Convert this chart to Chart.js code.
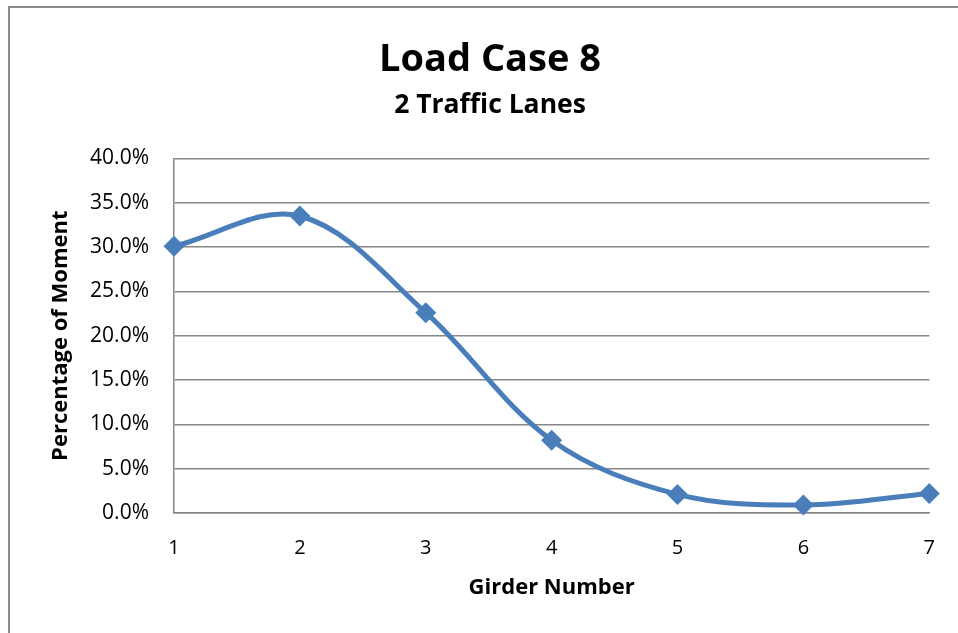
<!DOCTYPE html>
<html>
<head>
<meta charset="utf-8">
<script src="https://cdn.jsdelivr.net/npm/chart.js@4"></script>
<style>
  html, body { margin: 0; padding: 0; background: #fff; }
  #wrap { width: 958px; height: 633px; position: relative; }
</style>
</head>
<body>
<div id="wrap"><canvas id="loadCaseChart" width="958" height="633"></canvas></div>
<script>
// Girder numbers on the x axis
const girders = ['1', '2', '3', '4', '5', '6', '7'];
// Percentage of moment carried by each girder
const momentPct = [30.1, 33.5, 22.6, 8.2, 2.1, 0.9, 2.2];
// Y axis ticks (percent)
const yTicks = [0, 5, 10, 15, 20, 25, 30, 35, 40];

const blue = '#4A7EBB';
const gridGray = '#878787';
const fontFamily = '"Open Sans", "Liberation Sans", sans-serif';

// draws the chart's outer frame (only the top and left edges are visible)
const framePlugin = {
  id: 'frame',
  beforeDraw(chart) {
    const c = chart.ctx;
    c.save();
    c.fillStyle = '#fff';
    c.fillRect(0, 0, chart.width, chart.height);
    c.strokeStyle = '#8c8c8c';
    c.lineWidth = 2;
    c.beginPath();
    c.moveTo(9, chart.height);
    c.lineTo(9, 7);
    c.lineTo(chart.width, 7);
    c.stroke();
    c.restore();
  }
};

const ctx = document.getElementById('loadCaseChart').getContext('2d');
new Chart(ctx, {
  type: 'line',
  data: {
    labels: girders,
    datasets: [{
      label: 'Load Case 8',
      data: momentPct,
      borderColor: blue,
      backgroundColor: blue,
      borderWidth: 5,
      tension: 0.35,
      pointStyle: 'rectRot',
      pointRadius: 10.5,
      pointHoverRadius: 10.5,
      pointBackgroundColor: blue,
      pointBorderColor: blue,
      pointBorderWidth: 0,
      clip: false
    }]
  },
  plugins: [framePlugin],
  options: {
    responsive: false,
    animation: false,
    layout: {
      // left padding pushes the titles right so they sit where the original has them
      padding: { left: 46, right: 24, top: 0, bottom: 20 }
    },
    plugins: {
      legend: { display: false },
      tooltip: { enabled: false },
      title: {
        display: true,
        text: 'Load Case 8',
        color: '#000',
        font: { family: fontFamily, size: 38, weight: 'bold', lineHeight: 1.2 },
        padding: { top: 37, bottom: 0 }
      },
      subtitle: {
        display: true,
        text: '2 Traffic Lanes',
        color: '#000',
        font: { family: fontFamily, size: 26.5, weight: 'bold', lineHeight: 1.2 },
        padding: { top: 7, bottom: 37 }
      }
    },
    scales: {
      x: {
        type: 'category',
        offset: false,
        grid: { display: false, drawTicks: false },
        border: { display: true, color: gridGray, width: 1.5 },
        ticks: {
          color: '#000',
          padding: 23,
          maxRotation: 0,
          font: { family: fontFamily, size: 20 }
        },
        title: {
          display: true,
          text: 'Girder Number',
          color: '#000',
          font: { family: fontFamily, size: 22, weight: 'bold', lineHeight: 1.2 },
          padding: { top: 0, bottom: 12 }
        },
        afterFit(scale) { scale.height = 100; }
      },
      y: {
        min: 0,
        max: 40,
        afterBuildTicks(scale) { scale.ticks = yTicks.map(v => ({ value: v })); },
        grid: { color: gridGray, lineWidth: 1.5, drawTicks: false },
        border: { display: true, color: gridGray, width: 1.5 },
        ticks: {
          color: '#000',
          padding: 25,
          font: { family: fontFamily, size: 21 },
          callback: v => v.toFixed(1) + '%'
        },
        title: {
          display: true,
          text: 'Percentage of Moment',
          color: '#000',
          font: { family: fontFamily, size: 22, weight: 'bold', lineHeight: 1.2 },
          padding: { top: 2, bottom: 0 }
        },
        afterFit(scale) { scale.width = 128; }
      }
    }
  }
});
</script>
</body>
</html>
